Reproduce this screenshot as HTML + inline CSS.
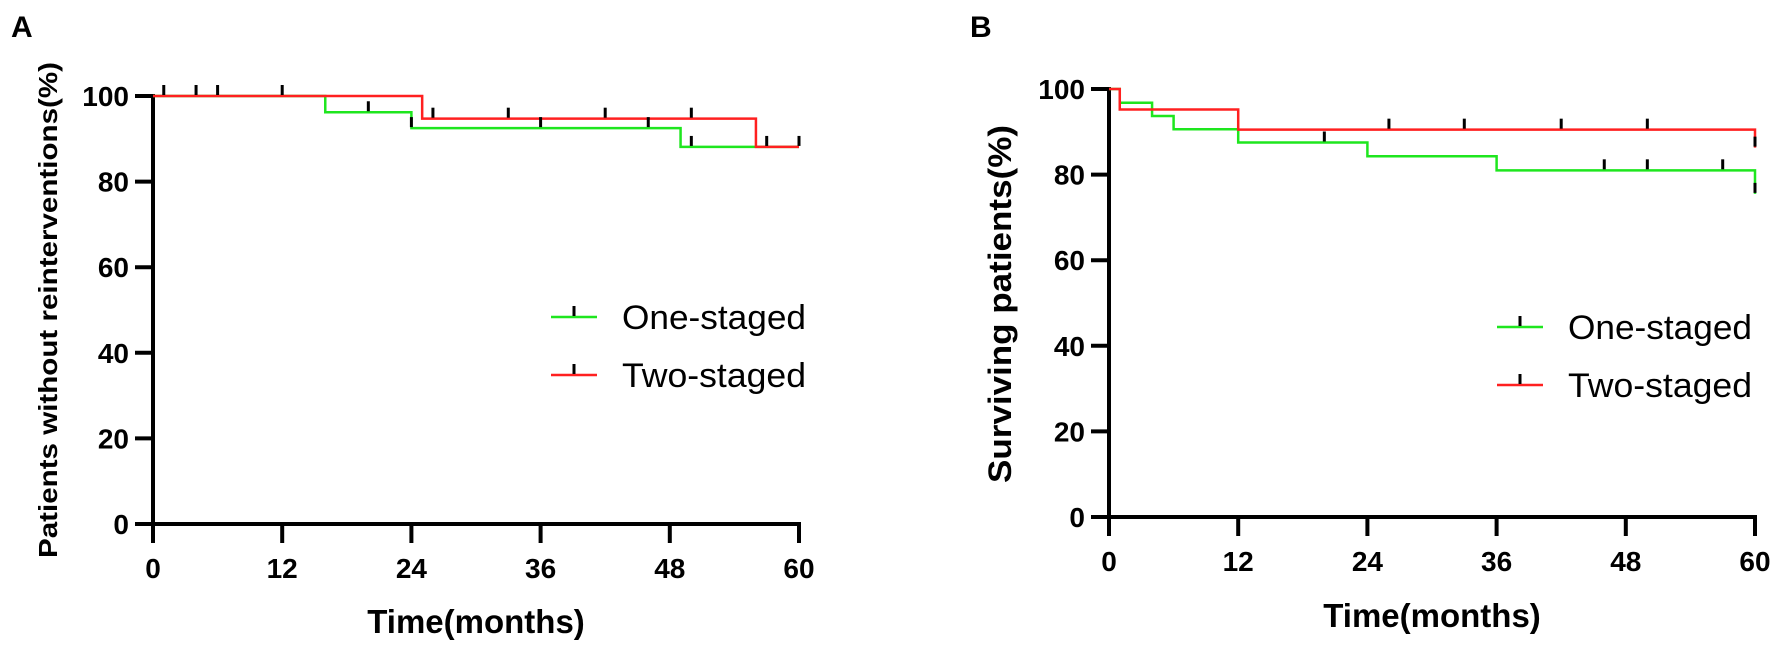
<!DOCTYPE html>
<html><head><meta charset="utf-8"><style>
html,body{margin:0;padding:0;background:#fff}
svg{display:block}
text{font-family:"Liberation Sans",sans-serif;font-weight:bold;fill:#000}
.leg{font-weight:normal}
</style></head><body>
<svg id="chart" width="1772" height="645" viewBox="0 0 1772 645" xmlns="http://www.w3.org/2000/svg">
<text x="11" y="37" font-size="30">A</text>
<text x="970" y="37" font-size="30">B</text>
</svg>
<script>
const xTicks=[0,12,24,36,48,60];
const yTicks=[0,20,40,60,80,100];
// Panel A data (time in months, survival %)
const aOneT=[0,16,24,49];
const aOneS=[100,96.2,92.5,88.1];
const aTwoT=[0,25,56];
const aTwoS=[100,94.7,88.1];
const aOneCensT=[1,4,6,12,20,24,36,46,50,57,60];
const aOneCensS=[100,100,100,100,96.2,92.5,92.5,92.5,88.1,88.1,88.1];
const aTwoCensT=[26,33,42,50];
const aTwoCensS=[94.7,94.7,94.7,94.7];
// Panel B data
const bOneT=[0,1,4,6,12,24,36,60];
const bOneS=[100,96.8,93.7,90.6,87.5,84.3,81,75.5];
const bTwoT=[0,1,12,60];
const bTwoS=[100,95.2,90.5,86.3];
const bOneCensT=[20,46,50,57,60];
const bOneCensS=[87.5,81,81,81,75.5];
const bTwoCensT=[26,33,42,50,60];
const bTwoCensS=[90.5,90.5,90.5,90.5,86.3];

const NS="http://www.w3.org/2000/svg";
const svg=document.getElementById('chart');
function mk(tag,attrs,parent){const e=document.createElementNS(NS,tag);for(const k in attrs)e.setAttribute(k,attrs[k]);(parent||svg).appendChild(e);return e;}

function panel(cfg){
  const g=mk('g',{});
  
  
  const sx=t=>cfg.x0+(t/60)*(cfg.x1-cfg.x0);
  const sy=v=>cfg.y0-(v/100)*(cfg.y0-cfg.y1);
  const ya=mk('line',{x1:cfg.x0,y1:sy(100)-2,x2:cfg.x0,y2:cfg.y0+2,stroke:'#000','stroke-width':4},g);
  
  
  const xa=mk('line',{x1:cfg.x0-18,y1:cfg.y0,x2:cfg.x1+2,y2:cfg.y0,stroke:'#000','stroke-width':4},g);
  
  
  yTicks.forEach(v=>{
    mk('line',{x1:cfg.x0-18,y1:sy(v),x2:cfg.x0,y2:sy(v),stroke:'#000','stroke-width':4},g);
    const t=mk('text',{x:cfg.x0-24,y:sy(v)+10,'text-anchor':'end','font-size':28},g);
    t.textContent=v;
    
    
  });
  xTicks.forEach(v=>{
    mk('line',{x1:sx(v),y1:cfg.y0,x2:sx(v),y2:cfg.y0+19,stroke:'#000','stroke-width':4},g);
    const t=mk('text',{x:sx(v),y:cfg.y0+54,'text-anchor':'middle','font-size':28},g);
    t.textContent=v;
    
    
  });
  const xt=mk('text',{x:(cfg.x0+cfg.x1)/2,y:cfg.xtY,'text-anchor':'middle','font-size':33},g);
  xt.textContent='Time(months)';
  
  
  const yt=mk('text',{x:0,y:0,'text-anchor':'middle','font-size':cfg.ytSize,textLength:cfg.ytLen,lengthAdjust:'spacingAndGlyphs',transform:`translate(${cfg.ytX},${cfg.ytY}) rotate(-90)`},g);
  yt.textContent=cfg.ytitle;
  
  
  function series(T,S,color,name,w){
    let d=`M${sx(T[0])},${sy(S[0])}`;
    for(let i=1;i<T.length;i++){d+=` H${sx(T[i])} V${sy(S[i])}`;}
    d+=` H${sx(60)}`;
    const p=mk('path',{d:d,fill:'none',stroke:color,'stroke-width':w},g);
    
    
  }
  function cens(T,S,name){
    T.forEach((t,i)=>{
      const l=mk('line',{x1:sx(t),y1:sy(S[i])-11,x2:sx(t),y2:sy(S[i])-1,stroke:'#000','stroke-width':3},g);
      
      
    });
  }
  series(cfg.oneT,cfg.oneS,'#1ee61e','one-staged-line',2.5);
  series(cfg.twoT,cfg.twoS,'#ff2020','two-staged-line',2.5);
  cens(cfg.oneCT,cfg.oneCS,'one-staged-censor-tick');
  cens(cfg.twoCT,cfg.twoCS,'two-staged-censor-tick');
  [['One-staged','#1ee61e',cfg.legY1],['Two-staged','#ff2020',cfg.legY2]].forEach(([lab,c,y])=>{
    const lg=mk('g',{},g);
    
    
    mk('line',{x1:cfg.legX,y1:y,x2:cfg.legX+46,y2:y,stroke:c,'stroke-width':2.5},lg);
    mk('line',{x1:cfg.legX+23,y1:y-11,x2:cfg.legX+23,y2:y-1,stroke:'#000','stroke-width':3},lg);
    const t=mk('text',{x:cfg.legX+71,y:y+12,'font-size':34,class:'leg',textLength:184,lengthAdjust:'spacingAndGlyphs'},lg);
    t.textContent=lab;
  });
}
panel({name:'panel-a',x0:153,x1:799,y0:524,y1:96,ytitle:'Patients without reinterventions(%)',ytSize:26,ytLen:496,ytX:57,ytY:310,xtY:633,
  oneT:aOneT,oneS:aOneS,twoT:aTwoT,twoS:aTwoS,oneCT:aOneCensT,oneCS:aOneCensS,twoCT:aTwoCensT,twoCS:aTwoCensS,
  legX:551,legY1:317,legY2:375});
panel({name:'panel-b',x0:1109,x1:1755,y0:517,y1:89,ytitle:'Surviving patients(%)',ytSize:32,ytLen:358,ytX:1011,ytY:304,xtY:627,
  oneT:bOneT,oneS:bOneS,twoT:bTwoT,twoS:bTwoS,oneCT:bOneCensT,oneCS:bOneCensS,twoCT:bTwoCensT,twoCS:bTwoCensS,
  legX:1497,legY1:327,legY2:385});
</script>
</body></html>
